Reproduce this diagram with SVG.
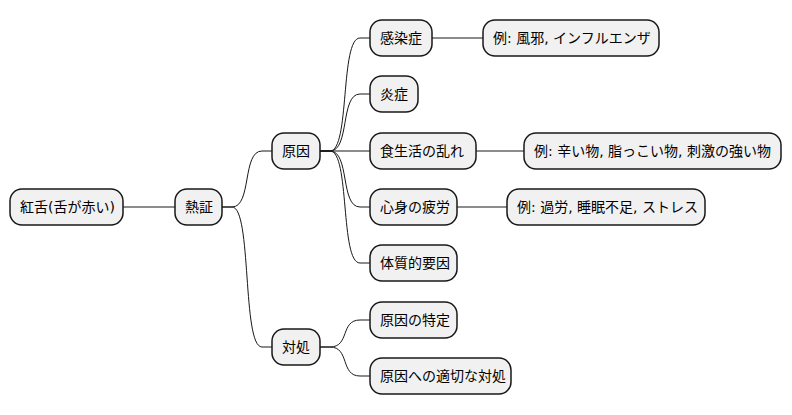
<svg xmlns="http://www.w3.org/2000/svg" width="792" height="415" viewBox="0 0 792 415">
<style>
.n rect{fill:#F1F1F1;stroke:#181818;stroke-width:1.5;}
.n text{font-family:"DejaVu Sans","Noto Sans CJK JP",sans-serif;font-size:14px;fill:#000;}
.c path{fill:none;stroke:#181818;stroke-width:1;}
</style>
<rect width="792" height="415" fill="#FFFFFF"/>
<g class="c" id="connectors">
<path d="M123,207 L175,207"/>
<path d="M222,207 L232,207 C252,207 242,151 262,151 L272,151"/>
<path d="M222,207 L232,207 C252,207 242,347 262,347 L272,347"/>
<path d="M320,151 L330,151 C350,151 340,38 360,38 L370,38"/>
<path d="M320,151 L330,151 C350,151 340,94 360,94 L370,94"/>
<path d="M320,151 L370,151"/>
<path d="M320,151 L330,151 C350,151 340,207 360,207 L370,207"/>
<path d="M320,151 L330,151 C350,151 340,263 360,263 L370,263"/>
<path d="M320,347 L330,347 C350,347 340,320 360,320 L370,320"/>
<path d="M320,347 L330,347 C350,347 340,376 360,376 L370,376"/>
<path d="M432,38 L483,38"/>
<path d="M476,151 L524,151"/>
<path d="M457,207 L507,207"/>
</g>
<g class="n" id="n_root"><rect x="10" y="189" width="113" height="36" rx="12"/><text x="20" y="212">紅舌(舌が赤い)</text></g>
<g class="n" id="n_netsu"><rect x="175" y="189" width="47" height="36" rx="12"/><text x="185" y="212">熱証</text></g>
<g class="n" id="n_gen"><rect x="272" y="133" width="48" height="36" rx="12"/><text x="282" y="156">原因</text></g>
<g class="n" id="n_taisho"><rect x="272" y="329" width="48" height="36" rx="12"/><text x="282" y="352">対処</text></g>
<g class="n" id="n_kansen"><rect x="370" y="20" width="62" height="36" rx="12"/><text x="380" y="43">感染症</text></g>
<g class="n" id="n_kansen_ex"><rect x="483" y="20" width="176" height="36" rx="12"/><text x="493" y="43">例: 風邪, インフルエンザ</text></g>
<g class="n" id="n_ensho"><rect x="370" y="76" width="48" height="36" rx="12"/><text x="380" y="99">炎症</text></g>
<g class="n" id="n_shoku"><rect x="370" y="133" width="106" height="36" rx="12"/><text x="380" y="156">食生活の乱れ</text></g>
<g class="n" id="n_shoku_ex"><rect x="524" y="133" width="257" height="36" rx="12"/><text x="534" y="156">例: 辛い物, 脂っこい物, 刺激の強い物</text></g>
<g class="n" id="n_hiro"><rect x="370" y="189" width="87" height="36" rx="12"/><text x="380" y="212">心身の疲労</text></g>
<g class="n" id="n_hiro_ex"><rect x="507" y="189" width="198" height="36" rx="12"/><text x="517" y="212">例: 過労, 睡眠不足, ストレス</text></g>
<g class="n" id="n_taishitsu"><rect x="370" y="245" width="87" height="36" rx="12"/><text x="380" y="268">体質的要因</text></g>
<g class="n" id="n_tokutei"><rect x="370" y="302" width="87" height="36" rx="12"/><text x="380" y="325">原因の特定</text></g>
<g class="n" id="n_tekisetsu"><rect x="370" y="358" width="141" height="36" rx="12"/><text x="380" y="381">原因への適切な対処</text></g>
</svg>
